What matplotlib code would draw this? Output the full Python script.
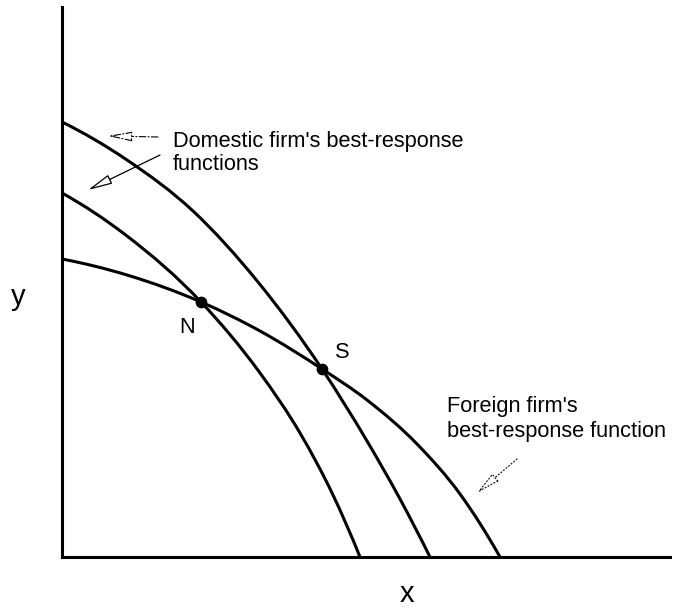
import matplotlib
matplotlib.use('Agg')
import matplotlib.pyplot as plt
from matplotlib.path import Path
from matplotlib.patches import PathPatch

# ---- data (units = horizontal / vertical distance from the origin) ----
home_low_x = [0, 65, 139, 198, 238, 271, 298]
home_low_y = [364, 321, 255, 184, 124, 62, 0]
home_high_x = [0, 65, 131, 196, 260, 305, 338, 368]
home_high_y = [435, 397, 346, 275, 188, 116, 58, 0]
foreign_x = [0, 65, 139, 198, 260, 305, 355, 398, 438]
foreign_y = [298, 282, 255, 226, 188, 157, 113, 63, 0]
eq_labels = ['N', 'S']
eq_x = [139, 260]
eq_y = [255, 188]

W, H = 674, 609
plt.rcParams['font.family'] = ['Liberation Sans', 'DejaVu Sans']

fig = plt.figure(figsize=(W / 100, H / 100), dpi=100)
ax = fig.add_axes([62 / W, (H - 557) / H, (670 - 62) / W, (557 - 7) / H])
ax.set_xlim(0, 608)
ax.set_ylim(0, 550)
for s in ['top', 'right']:
    ax.spines[s].set_visible(False)
for s in ['left', 'bottom']:
    ax.spines[s].set_linewidth(2.2)
ax.set_xticks([])
ax.set_yticks([])


def smooth_path(xs, ys):
    """Cubic Hermite curve through the read points (three-point tangents), as Bezier segments."""
    n = len(xs)
    h = [xs[i + 1] - xs[i] for i in range(n - 1)]
    d = [(ys[i + 1] - ys[i]) / h[i] for i in range(n - 1)]
    m = [0.0] * n
    for i in range(1, n - 1):
        m[i] = (h[i] * d[i - 1] + h[i - 1] * d[i]) / (h[i - 1] + h[i])
    m[0] = ((2 * h[0] + h[1]) * d[0] - h[0] * d[1]) / (h[0] + h[1])
    m[-1] = ((2 * h[-1] + h[-2]) * d[-1] - h[-1] * d[-2]) / (h[-1] + h[-2])
    verts = [(xs[0], ys[0])]
    codes = [Path.MOVETO]
    for i in range(n - 1):
        verts += [(xs[i] + h[i] / 3, ys[i] + m[i] * h[i] / 3),
                  (xs[i + 1] - h[i] / 3, ys[i + 1] - m[i + 1] * h[i] / 3),
                  (xs[i + 1], ys[i + 1])]
        codes += [Path.CURVE4] * 3
    return Path(verts, codes)


for xs, ys in [(home_low_x, home_low_y), (home_high_x, home_high_y), (foreign_x, foreign_y)]:
    ax.add_patch(PathPatch(smooth_path(xs, ys), fill=False, edgecolor='black', lw=2.2,
                           capstyle='butt', joinstyle='round', clip_on=False))
ax.scatter(eq_x, eq_y, s=55, color='black', zorder=5)


def P(px, py):
    return (px / W, 1 - py / H)


fs = 15.7
fig.text(*P(179, 333), eq_labels[0], fontsize=fs, va='baseline', ha='left')
fig.text(*P(335, 358), eq_labels[1], fontsize=fs, va='baseline', ha='left')

fig.text(*P(173, 147), "Domestic firm's best-response", fontsize=fs, va='baseline', ha='left')
fig.text(*P(173, 170), "functions", fontsize=fs, va='baseline', ha='left')
fig.text(*P(447, 412), "Foreign firm's", fontsize=fs, va='baseline', ha='left')
fig.text(*P(447, 437), "best-response function", fontsize=fs, va='baseline', ha='left')

fig.text(*P(18, 305), 'y', fontsize=21, va='baseline', ha='center')
fig.text(*P(407, 602), 'x', fontsize=21, va='baseline', ha='center')

akw = dict(xycoords='figure fraction', textcoords='figure fraction')
head = '-|>,head_length=1.5,head_width=0.3'
ax.annotate('', xy=P(108, 136), xytext=P(158, 137), **akw,
            arrowprops=dict(arrowstyle=head, lw=0.8, ls=(0, (6, 2, 1, 2)),
                            color='black', fc='white', shrinkA=0, shrinkB=0))
ax.annotate('', xy=P(88, 190), xytext=P(160, 155), **akw,
            arrowprops=dict(arrowstyle=head, lw=0.9,
                            color='black', fc='white', shrinkA=0, shrinkB=0))
ax.annotate('', xy=P(477, 493), xytext=P(517, 459), **akw,
            arrowprops=dict(arrowstyle=head, lw=0.8, ls=(0, (1, 2)),
                            color='black', fc='white', shrinkA=0, shrinkB=0))

fig.savefig('out.png', dpi=100)
